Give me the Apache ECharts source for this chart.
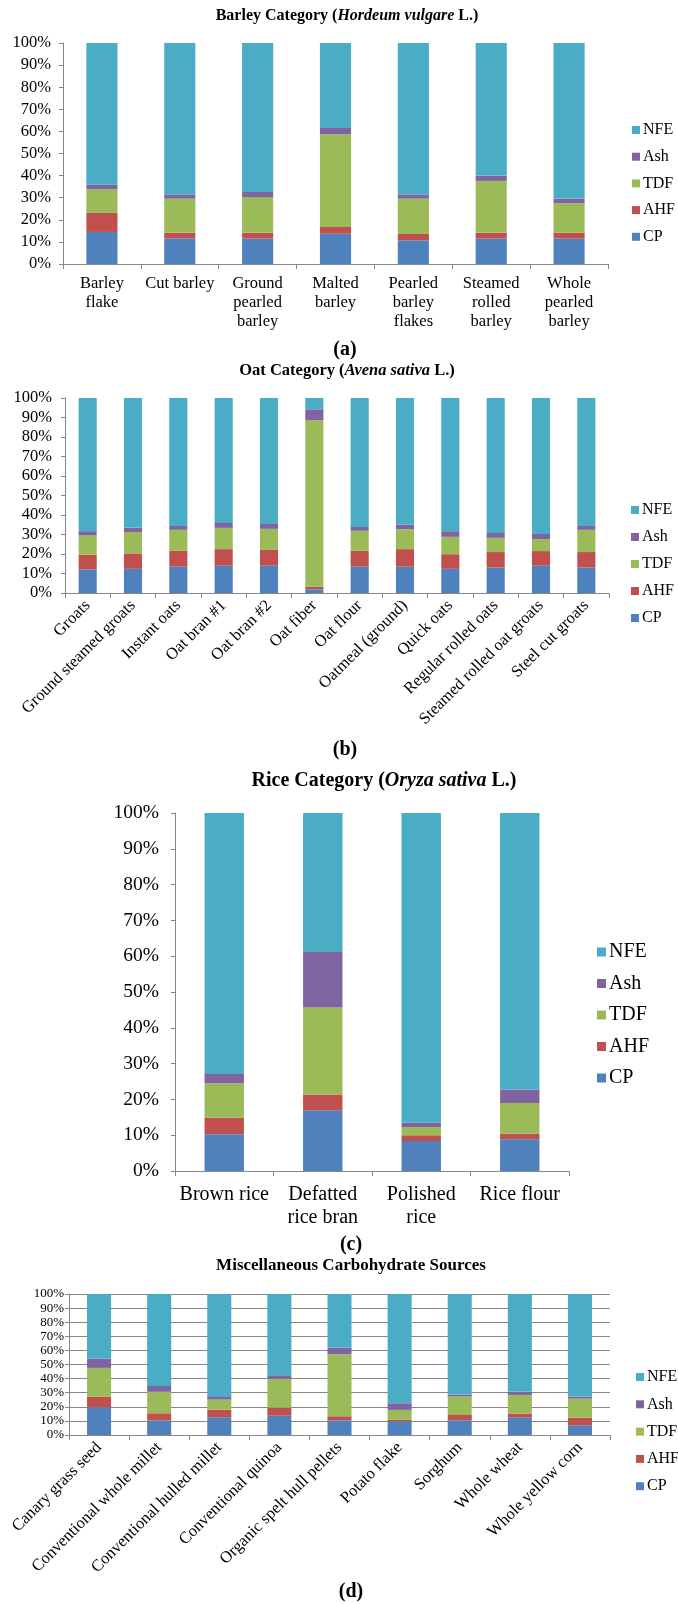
<!DOCTYPE html>
<html>
<head>
<meta charset="utf-8">
<script src="https://cdn.jsdelivr.net/npm/echarts@6.0.0/dist/echarts.min.js"></script>
<style>
html,body{margin:0;padding:0;background:#fff}
#main{width:678px;height:1604px}
</style>
</head>
<body>
<div id="main"></div>
<script>
// (a) barley
var barleyCats = ['Barley\nflake', 'Cut barley', 'Ground\npearled\nbarley', 'Malted\nbarley', 'Pearled\nbarley\nflakes', 'Steamed\nrolled\nbarley', 'Whole\npearled\nbarley'];
var barleyCP  = [14.5, 11.6, 11.5, 13.7, 10.7, 11.5, 11.5];
var barleyAHF = [8.6, 2.6, 2.7, 3.0, 2.9, 2.7, 2.7];
var barleyTDF = [10.7, 15.4, 16.1, 42.0, 16.0, 23.4, 13.3];
var barleyAsh = [2.1, 1.9, 2.3, 2.8, 1.9, 2.4, 2.1];
var barleyNFE = [64.1, 68.5, 67.4, 38.5, 68.5, 60.0, 70.4];

// (b) oat
var oatCats = ['Groats', 'Ground steamed groats', 'Instant oats', 'Oat bran #1', 'Oat bran #2', 'Oat fiber', 'Oat flour', 'Oatmeal (ground)', 'Quick oats', 'Regular rolled oats', 'Steamed rolled oat groats', 'Steel cut groats'];
var oatCP  = [12.1, 12.4, 13.5, 14.0, 14.0, 1.9, 13.5, 13.5, 12.4, 13.1, 14.0, 13.1];
var oatAHF = [7.5, 7.9, 8.1, 8.5, 8.1, 1.3, 8.1, 9.0, 7.5, 7.9, 7.5, 7.9];
var oatTDF = [9.9, 11.0, 10.8, 10.9, 10.8, 85.4, 10.3, 10.2, 8.9, 7.3, 6.1, 11.4];
var oatAsh = [2.2, 2.1, 2.0, 2.5, 2.5, 5.6, 2.0, 2.4, 2.9, 2.5, 2.7, 2.0];
var oatNFE = [68.3, 66.6, 65.6, 64.1, 64.6, 5.8, 66.1, 64.9, 68.3, 69.2, 69.7, 65.6];

// (c) rice
var riceCats = ['Brown rice', 'Defatted\nrice bran', 'Polished\nrice', 'Rice flour'];
var riceCP  = [10.3, 17.0, 8.4, 8.9];
var riceAHF = [4.6, 4.4, 1.6, 1.5];
var riceTDF = [9.6, 24.3, 2.3, 8.6];
var riceAsh = [2.6, 15.5, 1.2, 3.8];
var riceNFE = [72.9, 38.8, 86.5, 77.2];

// (d) misc
var miscCats = ['Canary grass seed', 'Conventional whole millet', 'Conventional hulled millet', 'Conventional quinoa', 'Organic spelt hull pellets', 'Potato flake', 'Sorghum', 'Whole wheat', 'Whole yellow corn'];
var miscCP  = [19.7, 10.4, 12.6, 13.7, 10.4, 9.7, 10.4, 12.6, 6.9];
var miscAHF = [7.3, 5.0, 5.4, 5.7, 2.9, 1.2, 3.8, 2.6, 5.4];
var miscTDF = [20.6, 15.2, 7.1, 20.4, 44.0, 6.9, 13.1, 13.2, 13.5];
var miscAsh = [6.4, 4.2, 1.9, 2.6, 4.5, 4.7, 1.4, 2.4, 1.5];
var miscNFE = [46.0, 65.2, 73.0, 57.6, 38.2, 77.5, 71.3, 69.2, 72.7];

var parts = ['CP', 'AHF', 'TDF', 'Ash', 'NFE'];
var colors = {CP: '#4F81BD', AHF: '#C0504D', TDF: '#9BBB59', Ash: '#8064A2', NFE: '#4BACC6'};
var FONT = '"Liberation Serif", "Times New Roman", serif';
var AXIS = '#868686';

var chart = echarts.init(document.getElementById('main'));

// one stacked column series per part, for grid idx
function makeSeries(idx, list){
	return parts.map(function(p, i){
		return {
			name: p,
			type: 'bar',
			stack: 'g' + idx,
			xAxisIndex: idx,
			yAxisIndex: idx,
			barWidth: '40%',
			itemStyle: {color: colors[p]},
			data: list[i]
		};
	});
}

function titleOf(x, y, size, plain, italic, tail){
	return {
		text: italic ? '{b|' + plain + '}{i|' + italic + '}{b|' + tail + '}' : '{b|' + plain + '}',
		left: x, top: y, textAlign: 'center', textVerticalAlign: 'middle', padding: 0,
		textStyle: {
			rich: {
				b: {fontFamily: FONT, fontWeight: 'bold', fontSize: size, color: '#000'},
				i: {fontFamily: FONT, fontWeight: 'bold', fontStyle: 'italic', fontSize: size, color: '#000'}
			}
		}
	};
}

function panelLabel(x, y, letter){
	return {
		text: '{n|(}{b|' + letter + '}{n|)}',
		left: x, top: y, textAlign: 'center', textVerticalAlign: 'middle', padding: 0,
		textStyle: {
			rich: {
				n: {fontFamily: FONT, fontSize: 20, color: '#000'},
				b: {fontFamily: FONT, fontSize: 20, fontWeight: 'bold', color: '#000'}
			}
		}
	};
}

function legendAt(x, y, size, gap, box){
	return {
		data: ['NFE', 'Ash', 'TDF', 'AHF', 'CP'],
		orient: 'vertical',
		left: x, top: y,
		icon: 'rect',
		itemWidth: box, itemHeight: box,
		itemGap: gap,
		padding: 0,
		textStyle: {fontFamily: FONT, fontSize: size, lineHeight: size, color: '#000', padding: [0, 0, 0, -2]}
	};
}

function xAxisOf(idx, cats, size, lh, rot, margin){
	return {
		type: 'category', gridIndex: idx, data: cats,
		axisLine: {show: true, lineStyle: {color: AXIS, width: 1}},
		axisTick: {show: true, length: 5, lineStyle: {color: AXIS}},
		axisLabel: {interval: 0, rotate: rot, margin: margin, hideOverlap: false, fontFamily: FONT, fontSize: size, lineHeight: lh, color: '#000'}
	};
}

function yAxisOf(idx, size, margin, grid){
	return {
		type: 'value', gridIndex: idx, min: 0, max: 100, interval: 10,
		axisLine: {show: true, lineStyle: {color: AXIS, width: 1}},
		axisTick: {show: true, length: 4, lineStyle: {color: AXIS}},
		splitLine: {show: grid, lineStyle: {color: AXIS, width: 1}},
		axisLabel: {formatter: '{value}%', margin: margin, showMinLabel: true, showMaxLabel: true, hideOverlap: false,
			fontFamily: FONT, fontSize: size, color: '#000'}
	};
}

var option = {
	backgroundColor: '#fff',
	animation: false,
	title: [
		titleOf(347, 16, 16, 'Barley Category (', 'Hordeum vulgare', ' L.)'),
		panelLabel(345, 350, 'a'),
		titleOf(347, 371, 16.5, 'Oat Category (', 'Avena sativa', ' L.)'),
		panelLabel(345, 750, 'b'),
		titleOf(384, 781, 20, 'Rice Category (', 'Oryza sativa', ' L.)'),
		panelLabel(351, 1245, 'c'),
		titleOf(351, 1266, 17, 'Miscellaneous Carbohydrate Sources'),
		panelLabel(351, 1592, 'd')
	],
	legend: [
		legendAt(632, 122, 16, 10.7, 8),
		legendAt(631, 502, 16, 11, 8),
		legendAt(597, 942, 20, 11.5, 9),
		legendAt(636, 1369, 16, 11.3, 8)
	],
	grid: [
		{left: 63, top: 43, width: 545, height: 221, outerBoundsMode: 'none'},
		{left: 65, top: 398, width: 544, height: 195, outerBoundsMode: 'none'},
		{left: 175, top: 813, width: 394, height: 358, outerBoundsMode: 'none'},
		{left: 69, top: 1294, width: 541, height: 141, outerBoundsMode: 'none'}
	],
	xAxis: [
		xAxisOf(0, barleyCats, 16.5, 19, 0, 10),
		xAxisOf(1, oatCats, 16.5, 17, 45, 10),
		xAxisOf(2, riceCats, 20, 23, 0, 12),
		xAxisOf(3, miscCats, 16.5, 17, 45, 10)
	],
	yAxis: [
		yAxisOf(0, 16.5, 12, false),
		yAxisOf(1, 16.5, 13, false),
		yAxisOf(2, 19.5, 16, false),
		yAxisOf(3, 13, 5, true)
	],
	series: [].concat(
		makeSeries(0, [barleyCP, barleyAHF, barleyTDF, barleyAsh, barleyNFE]),
		makeSeries(1, [oatCP, oatAHF, oatTDF, oatAsh, oatNFE]),
		makeSeries(2, [riceCP, riceAHF, riceTDF, riceAsh, riceNFE]),
		makeSeries(3, [miscCP, miscAHF, miscTDF, miscAsh, miscNFE])
	)
};
chart.setOption(option);
</script>
</body>
</html>
